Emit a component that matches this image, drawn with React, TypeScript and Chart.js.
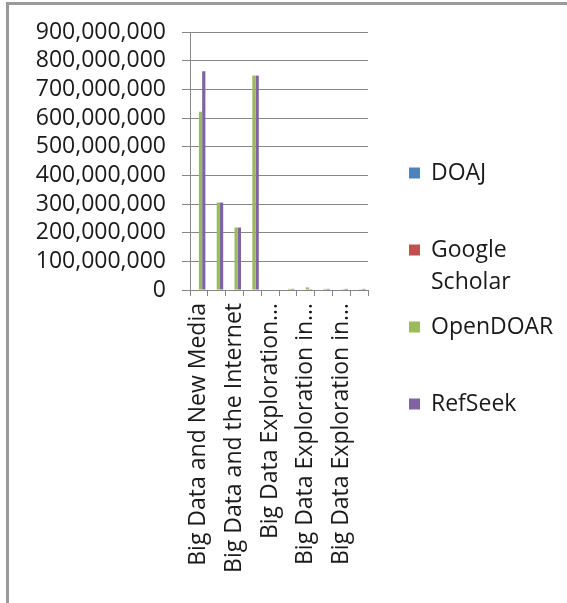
import React, { useEffect, useRef } from "react";
import { Chart, registerables } from "chart.js";

Chart.register(...registerables);

// Ten categories; only every other one carries a visible label on the axis.
const categories: string[] = [
  "Big Data and New Media",
  "",
  "Big Data and the Internet",
  "",
  "Big Data Exploration…",
  "",
  "Big Data Exploration in…",
  "",
  "Big Data Exploration in…",
  "",
];

const seriesNames: string[] = ["DOAJ", "Google Scholar", "OpenDOAR", "RefSeek"];
const seriesColors: string[] = ["#4f81bd", "#c0504d", "#9bbb59", "#8064a2"];

const doaj: number[] = [0, 0, 0, 0, 0, 0, 0, 0, 0, 0];
const googleScholar: number[] = [0, 0, 0, 0, 0, 0, 0, 0, 0, 0];
const openDoar: number[] = [
  622000000, 305000000, 218000000, 748000000, 0, 4000000, 9000000, 4000000, 3000000, 3000000,
];
const refSeek: number[] = [
  763000000, 305000000, 218000000, 748000000, 0, 4000000, 3000000, 4000000, 4000000, 4000000,
];

const yMin = 0;
const yMax = 900000000;
const yStep = 100000000;

const FONT_FAMILY = "'Open Sans', 'Liberation Sans', sans-serif";
const FONT_SIZE = 23;
const TEXT_COLOR = "#1a1a1a";
const GRID_COLOR = "#868686";

// Legend drawn to the right of the plot, one square marker per series,
// wrapping long names onto a second line.
const sideLegend = {
  id: "sideLegend",
  afterDraw(chart: any, _args: any, opts: any) {
    const ctx: CanvasRenderingContext2D = chart.ctx;
    const items = chart.data.datasets;
    ctx.save();
    ctx.font = `${FONT_SIZE}px ${FONT_FAMILY}`;
    ctx.textBaseline = "middle";
    ctx.textAlign = "left";
    items.forEach((ds: any, i: number) => {
      const cy = opts.top + i * opts.step;
      ctx.fillStyle = ds.backgroundColor;
      ctx.fillRect(opts.left, cy - opts.box / 2, opts.box, opts.box);
      // simple word wrap
      const words = String(ds.label).split(" ");
      const lines: string[] = [];
      let cur = "";
      words.forEach((w) => {
        const test = cur ? cur + " " + w : w;
        if (cur && ctx.measureText(test).width > opts.maxWidth) {
          lines.push(cur);
          cur = w;
        } else {
          cur = test;
        }
      });
      if (cur) lines.push(cur);
      ctx.fillStyle = TEXT_COLOR;
      lines.forEach((ln, k) => {
        ctx.fillText(ln, opts.left + opts.box + opts.gap, cy + k * opts.lineHeight);
      });
    });
    ctx.restore();
  },
};

export default function App() {
  const canvasRef = useRef<HTMLCanvasElement | null>(null);

  useEffect(() => {
    if (!canvasRef.current) return;
    const seriesData = [doaj, googleScholar, openDoar, refSeek];
    const chart = new Chart(canvasRef.current, {
      type: "bar",
      data: {
        labels: categories,
        datasets: seriesNames.map((name, i) => ({
          label: name,
          data: seriesData[i],
          backgroundColor: seriesColors[i],
          borderWidth: 0,
          categoryPercentage: 0.73,
          barPercentage: 1.0,
        })),
      },
      options: {
        responsive: false,
        animation: false,
        layout: { padding: { left: 0, top: 32, right: 199, bottom: 0 } },
        plugins: {
          legend: { display: false },
          tooltip: { enabled: false },
          sideLegend: {
            left: 409,
            top: 173,
            step: 77,
            box: 11,
            gap: 11,
            maxWidth: 132,
            lineHeight: 32,
          },
        } as any,
        scales: {
          x: {
            offset: true,
            grid: {
              display: true,
              drawOnChartArea: false,
              drawTicks: true,
              tickLength: 6,
              color: GRID_COLOR,
              offset: true,
            },
            border: { display: true, color: GRID_COLOR, width: 1 },
            ticks: {
              autoSkip: false,
              maxRotation: 90,
              minRotation: 90,
              padding: 7,
              color: TEXT_COLOR,
              font: { family: FONT_FAMILY, size: FONT_SIZE },
            },
            afterFit: (scale: any) => {
              scale.height = 313;
            },
          },
          y: {
            min: yMin,
            max: yMax,
            grid: {
              color: GRID_COLOR,
              drawTicks: true,
              tickLength: 8,
            },
            border: { display: true, color: GRID_COLOR, width: 1 },
            ticks: {
              stepSize: yStep,
              autoSkip: false,
              padding: 16,
              color: TEXT_COLOR,
              font: { family: FONT_FAMILY, size: FONT_SIZE },
              callback: (v: any) => Number(v).toLocaleString("en-US"),
            },
            afterFit: (scale: any) => {
              scale.width = 190;
            },
          },
        },
      },
      plugins: [sideLegend],
    });
    return () => chart.destroy();
  }, []);

  return (
    <div
      style={{
        position: "fixed",
        left: 0,
        top: 0,
        width: 567,
        height: 603,
        background: "#ffffff",
        overflow: "hidden",
      }}
    >
      <canvas ref={canvasRef} width={567} height={603} style={{ display: "block" }} />
      <div
        style={{
          position: "absolute",
          left: 6,
          top: 2,
          width: 700,
          height: 800,
          borderLeft: "3px solid #9a9a9a",
          borderTop: "3px solid #9a9a9a",
          pointerEvents: "none",
        }}
      />
    </div>
  );
}
